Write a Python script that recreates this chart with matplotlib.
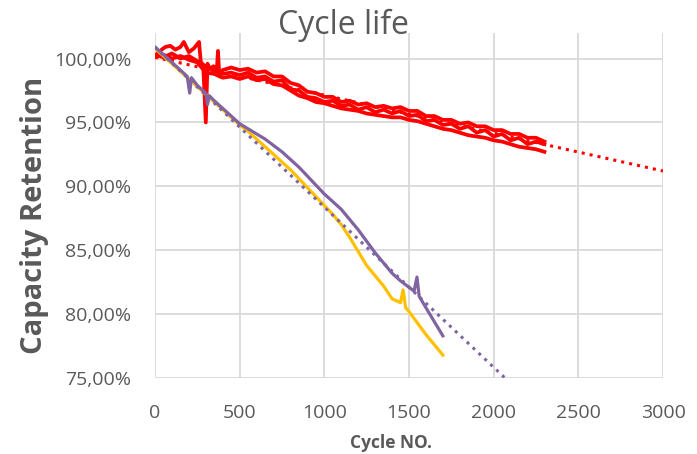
import matplotlib.pyplot as plt

# ---------------------------
# data
# ---------------------------
red_a_cycles = [0, 30, 60, 90, 120, 150, 170, 200, 230, 260, 270, 285, 300, 310, 325, 345,
                365, 372, 380, 400] + list(range(450, 2301, 50))
red_a = [100.2, 100.6, 100.9, 101.0, 100.7, 100.9, 101.3, 100.5, 100.8, 101.3, 99.8, 99.4,
         95.0, 99.6, 99.2, 99.4, 99.1, 100.6, 98.6, 99.1,
         99.3, 99.1, 99.2, 98.9, 99.0, 98.6, 98.6, 98.1, 97.9, 97.4, 97.3, 97.0, 97.0, 96.6,
         96.7, 96.4, 96.5, 96.2, 96.3, 96.1, 96.2, 95.9, 95.9, 95.5, 95.5, 95.2, 95.2, 94.9,
         95.0, 94.7, 94.7, 94.4, 94.4, 94.1, 94.1, 93.8, 93.8, 93.5]

red_cycles = list(range(0, 2301, 50))
red_b = [100.3, 100.1, 100.4, 100.0, 100.2, 99.8, 99.4, 99.0, 98.8, 98.9, 98.7, 98.9,
         98.5, 98.6, 98.2, 98.3, 97.6, 97.5, 97.0, 96.9, 96.6, 96.7, 96.3, 96.4, 96.0,
         96.2, 95.8, 96.0, 95.7, 95.9, 95.5, 95.6, 95.1, 95.2, 94.8, 94.9, 94.5, 94.7,
         94.2, 94.4, 93.9, 94.1, 93.6, 93.8, 93.3, 93.5, 93.3]
red_c = [100.1, 100.3, 100.0, 100.2, 99.9, 99.7, 98.9, 98.8, 98.5, 98.6, 98.4, 98.6,
         98.3, 98.4, 98.0, 97.9, 97.5, 97.1, 96.9, 96.6, 96.5, 96.3, 96.1, 96.0, 95.9,
         95.7, 95.6, 95.5, 95.4, 95.4, 95.2, 95.1, 94.9, 94.7, 94.5, 94.4, 94.2, 94.0,
         93.9, 93.8, 93.6, 93.5, 93.3, 93.1, 93.0, 92.9, 92.7]

yellow_cycles = list(range(0, 1451, 50)) + [1465, 1480, 1500, 1550, 1600, 1650, 1700]
yellow = [100.8, 100.2, 99.6, 99.0, 98.4, 97.8, 97.2, 96.6, 96.0, 95.4, 94.8, 94.3,
          93.7, 93.1, 92.5, 91.9, 91.3, 90.6, 89.9, 89.2, 88.5, 87.8, 87.0, 86.0, 84.9,
          83.8, 83.0, 82.2, 81.2, 80.9, 81.9, 80.5, 80.2, 79.3, 78.4, 77.6, 76.8]

purple_cycles = [0, 50, 100, 150, 190, 205, 215, 250, 300, 310, 320, 350] + \
    list(range(400, 1501, 50)) + [1530, 1547, 1560, 1600, 1650, 1700]
purple = [100.9, 100.3, 99.7, 99.1, 98.6, 97.3, 98.5, 97.9, 97.3, 96.4, 97.1, 96.7,
          96.1, 95.5, 94.9, 94.5, 94.1, 93.7, 93.2, 92.7, 92.1, 91.5, 90.8, 90.1, 89.4,
          88.8, 88.2, 87.4, 86.6, 85.7, 84.8, 84.0, 83.2, 82.6, 82.1,
          81.8, 82.9, 81.4, 80.5, 79.4, 78.3]

# linear trend lines (end points)
red_trend_cycles = [0, 3000]
red_trend = [100.1, 91.2]
purple_trend_cycles = [0, 2067]
purple_trend = [100.9, 75.0]

x_ticks = [0, 500, 1000, 1500, 2000, 2500, 3000]
y_ticks = [75, 80, 85, 90, 95, 100]

RED = "#FF0000"
YELLOW = "#FFC000"
PURPLE = "#8064A2"
GREY = "#595959"

plt.rcParams['font.family'] = ['Open Sans', 'DejaVu Sans']

fig = plt.figure(figsize=(6.97, 4.54), dpi=100)
ax = fig.add_axes([155 / 697, 1 - 378 / 454, 508 / 697, 345 / 454])

for ys, xs in [(red_a, red_a_cycles), (red_b, red_cycles), (red_c, red_cycles)]:
    ax.plot(xs, ys, color=RED, lw=2.7, solid_joinstyle='round')
ax.plot(red_trend_cycles, red_trend, color=RED, lw=2.2, ls=':')
ax.plot(yellow_cycles, yellow, color=YELLOW, lw=2.3)
ax.plot(purple_cycles, purple, color=PURPLE, lw=2.3)
ax.plot(purple_trend_cycles, purple_trend, color=PURPLE, lw=2.2, ls=':')

ax.set_xlim(0, 3000)
ax.set_ylim(75, 102)
ax.set_xticks(x_ticks)
ax.set_yticks(y_ticks)
ax.set_yticklabels([f"{v},00%" for v in y_ticks])
ax.tick_params(length=0, labelsize=14, labelcolor=GREY)
ax.tick_params(axis='y', pad=17)
ax.tick_params(axis='x', pad=19)
ax.grid(True, color="#D9D9D9", lw=1.3)
ax.set_axisbelow(True)
for s in ax.spines.values():
    s.set_visible(False)

fig.text(343 / 697, 1 - 25 / 454, "Cycle life", ha='center', va='center',
         fontsize=23, color=GREY)
fig.text(35 / 697, 1 - 215 / 454, "Capacity Retention", rotation=90, ha='center',
         va='center', fontsize=21, fontweight='bold', color=GREY)
fig.text(391 / 697, 1 - 443 / 454, "Cycle NO.", ha='center', va='center',
         fontsize=12.5, fontweight='bold', color=GREY)

fig.savefig("out.png", dpi=100)
